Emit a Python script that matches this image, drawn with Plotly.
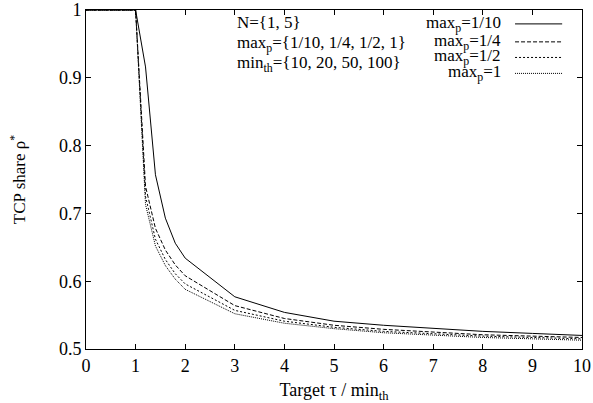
import plotly.graph_objects as go

# ---- data ----
target = [0, 1, 1.2, 1.4, 1.6, 1.8, 2, 3, 4, 5, 6, 7, 8, 9, 10]
share_maxp_1_10 = [1, 1, 0.916, 0.757, 0.693, 0.656, 0.634, 0.577, 0.554, 0.541, 0.535, 0.530, 0.526, 0.523, 0.520]
share_maxp_1_4 = [1, 1, 0.740, 0.678, 0.646, 0.624, 0.608, 0.564, 0.545, 0.535, 0.529, 0.525, 0.521, 0.519, 0.517]
share_maxp_1_2 = [1, 1, 0.725, 0.662, 0.632, 0.611, 0.596, 0.557, 0.541, 0.532, 0.526, 0.522, 0.519, 0.517, 0.515]
share_maxp_1 = [1, 1, 0.713, 0.652, 0.623, 0.603, 0.588, 0.552, 0.538, 0.530, 0.524, 0.520, 0.517, 0.515, 0.513]

series_names = ["max<sub>p</sub>=1/10", "max<sub>p</sub>=1/4", "max<sub>p</sub>=1/2", "max<sub>p</sub>=1"]
series_values = [share_maxp_1_10, share_maxp_1_4, share_maxp_1_2, share_maxp_1]
series_dash = ["solid", "4px,2px", "2px,2px", "1px,1px"]

x_ticks = list(range(0, 11))
y_ticks = [0.5, 0.6, 0.7, 0.8, 0.9, 1]
y_tick_labels = ["0.5", "0.6", "0.7", "0.8", "0.9", "1"]

info_lines = ["N={1, 5}", "max<sub>p</sub>={1/10, 1/4, 1/2, 1}", "min<sub>th</sub>={10, 20, 50, 100}"]

FONT = "Liberation Serif, Times New Roman, serif"
TXT = 17

fig = go.Figure()
for name, vals, dash in zip(series_names, series_values, series_dash):
    fig.add_trace(go.Scatter(x=target, y=vals, mode="lines", name=name,
                             line=dict(color="black", width=1, dash=dash),
                             showlegend=False))

# custom gnuplot-style key: text right-aligned, line sample to its right
key_y = [0.959, 0.906, 0.860, 0.813]
for name, dash, ky in zip(series_names, series_dash, key_y):
    fig.add_annotation(xref="paper", yref="paper", x=0.84, y=ky, text=name,
                       showarrow=False, xanchor="right", yanchor="middle",
                       font=dict(family=FONT, size=TXT, color="black"))
    fig.add_shape(type="line", xref="paper", yref="paper", x0=0.865, x1=0.96, y0=ky, y1=ky,
                  line=dict(color="black", width=1, dash=dash))

info_y = [0.963, 0.9, 0.84]
for txt, iy in zip(info_lines, info_y):
    fig.add_annotation(xref="paper", yref="paper", x=0.30, y=iy, text=txt,
                       showarrow=False, xanchor="left", yanchor="middle",
                       font=dict(family=FONT, size=TXT, color="black"))

axis_common = dict(showline=True, linecolor="black", linewidth=1, mirror="ticks",
                   ticks="inside", ticklen=5, tickcolor="black", tickwidth=1,
                   showgrid=False, zeroline=False,
                   tickfont=dict(family=FONT, size=18, color="black"))

fig.update_xaxes(range=[0, 10], tickvals=x_ticks, ticktext=[str(v) for v in x_ticks],
                 title=dict(text="Target τ / min<sub>th</sub>", standoff=10,
                            font=dict(family=FONT, size=18, color="black")),
                 **axis_common)
fig.update_yaxes(range=[0.5, 1], tickvals=y_ticks, ticktext=y_tick_labels,
                 title=dict(text="TCP share ρ<sup>*</sup>", standoff=28,
                            font=dict(family=FONT, size=TXT, color="black")),
                 **axis_common)

fig.update_layout(width=593, height=403, autosize=False,
                  margin=dict(l=86, r=11, t=10, b=54, autoexpand=False),
                  plot_bgcolor="white", paper_bgcolor="white",
                  font=dict(family=FONT, size=TXT, color="black"))

fig.write_html("out.html", config={"displayModeBar": False},
               post_script="document.body.style.margin='0';document.body.style.overflow='hidden';")
